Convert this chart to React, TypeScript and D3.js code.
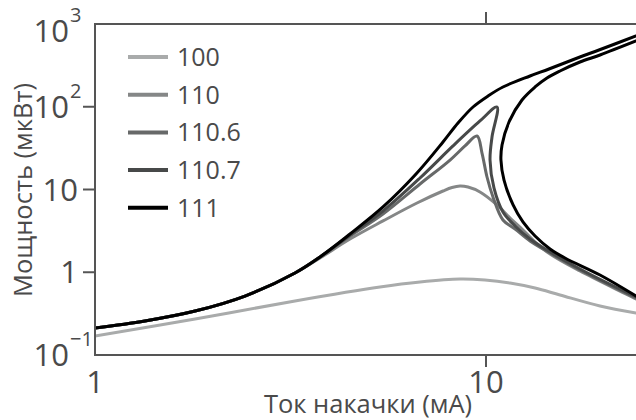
import React from 'react';
import * as d3 from 'd3';

// Pump current (mA) and output power (µW) for each detuning value
const legendLabels = ['100', '110', '110.6', '110.7', '111'];
const lineColors = ['#a9abab', '#858787', '#676969', '#474949', '#000000'];

const xTicks = [1, 10];
const yTicks = [0.1, 1, 10, 100, 1000];

const current100 = [1.0, 1.803, 3.247, 5.356, 6.780, 8.581, 9.941, 11.52, 13.35, 15.46, 19.57, 24.19];
const power100 = [0.170, 0.272, 0.450, 0.663, 0.762, 0.828, 0.806, 0.741, 0.645, 0.531, 0.391, 0.322];

const current110 = [1.0, 1.342, 1.803, 2.419, 3.247, 3.762, 4.489, 5.452, 6.661, 7.762, 8.185, 8.581, 8.995, 9.651, 10.67, 11.52, 12.36, 13.35, 14.58, 17.39, 24.19];
const power110 = [0.212, 0.258, 0.340, 0.516, 0.980, 1.487, 2.52, 4.17, 6.87, 9.59, 10.57, 11.02, 10.7, 9.33, 6.50, 4.52, 3.33, 2.32, 1.662, 1.035, 0.475];

const current1106 = [1.0, 1.342, 1.803, 2.419, 3.247, 3.762, 4.489, 5.452, 6.780, 8.091, 8.837, 9.484, 9.767, 10.06, 10.42, 11.05, 11.87, 12.96, 14.58, 17.39, 24.19];
const power1106 = [0.212, 0.258, 0.340, 0.516, 0.980, 1.529, 2.74, 5.06, 11.66, 22.7, 33.6, 44.3, 27.6, 14.16, 8.12, 4.28, 3.33, 2.39, 1.708, 1.065, 0.488];

const current1107 = [1.0, 1.342, 1.803, 2.419, 3.247, 3.762, 4.489, 5.452, 6.780, 8.234, 9.651, 10.67, 10.36, 10.24, 10.48, 11.05, 11.87, 12.96, 14.58, 17.39, 24.19];
const power1107 = [0.212, 0.258, 0.340, 0.516, 0.980, 1.529, 2.82, 5.50, 13.77, 33.6, 67.3, 99.3, 43.1, 22.7, 10.43, 5.35, 3.62, 2.52, 1.756, 1.095, 0.502];

// 111: lower/upper branch and the separate inner branch
const current111a = [1.0, 1.342, 1.803, 2.419, 3.247, 3.762, 4.489, 5.452, 6.623, 7.762, 8.480, 9.264, 10.12, 11.05, 12.96, 14.49, 17.39, 19.45, 24.19];
const power111a = [0.212, 0.258, 0.340, 0.516, 0.980, 1.529, 2.90, 6.15, 15.39, 37.5, 63.6, 99.3, 134.9, 173.3, 235.3, 285.9, 399.3, 485.1, 716.1];

const current111b = [24.19, 19.57, 17.39, 15.46, 14.32, 13.35, 12.36, 11.45, 10.99, 10.92, 11.12, 11.73, 12.43, 13.35, 14.58, 15.92, 19.57, 24.19];
const power111b = [623.3, 422.1, 347.4, 270.4, 222.6, 173.3, 120.7, 65.4, 34.5, 22.7, 13.0, 6.50, 4.05, 2.74, 1.91, 1.487, 0.926, 0.516];

const series = [
  { label: legendLabels[0], color: lineColors[0], parts: [[current100, power100]] },
  { label: legendLabels[1], color: lineColors[1], parts: [[current110, power110]] },
  { label: legendLabels[2], color: lineColors[2], parts: [[current1106, power1106]] },
  { label: legendLabels[3], color: lineColors[3], parts: [[current1107, power1107]] },
  { label: legendLabels[4], color: lineColors[4], parts: [[current111a, power111a], [current111b, power111b]] },
];

const W = 636;
const H = 420;
const left = 95;
const top = 24;
const bottom = 355;
const decade = 391;
const FONT = '"Open Sans", "Noto Sans", sans-serif';
const TEXT = '#4a4a4a';
const AXIS = '#555555';

const supMap: Record<string, string> = { '-': '\u2212' };

export default function App() {
  const x = d3.scaleLog().domain([1, 100]).range([left, left + 2 * decade]);
  const y = d3.scaleLog().domain([0.1, 1000]).range([bottom, top]);

  const line = d3
    .line<[number, number]>()
    .x((d) => x(d[0]))
    .y((d) => y(d[1]))
    .curve(d3.curveCatmullRom.alpha(0.5));

  const yLabel = (v: number) => {
    const exp = Math.round(Math.log10(v));
    if (exp === 0 || exp === 1) return { base: String(v), sup: '' };
    return { base: '10', sup: String(exp).split('').map((c) => supMap[c] || c).join('') };
  };

  return (
    <svg width={W} height={H} style={{ position: 'absolute', left: 0, top: 0, background: '#fff' }} fontFamily={FONT}>
      <defs>
        <clipPath id="plot-area">
          <rect x={left} y={top} width={W - left} height={bottom - top} />
        </clipPath>
      </defs>

      {/* curves */}
      <g clipPath="url(#plot-area)" fill="none" strokeWidth={3} strokeLinejoin="round" strokeLinecap="round">
        {series.map((s) =>
          s.parts.map(([cx, py], i) => (
            <path
              key={s.label + i}
              d={line(cx.map((c, k) => [c, py[k]] as [number, number])) || ''}
              stroke={s.color}
            />
          ))
        )}
      </g>

      {/* frame */}
      <g stroke={AXIS} strokeWidth={2} fill="none">
        <line x1={left} x2={W} y1={top} y2={top} />
        <line x1={left} x2={W} y1={bottom} y2={bottom} />
        <line x1={left} x2={left} y1={top - 1} y2={bottom + 1} />
      </g>

      {/* x ticks */}
      {xTicks.map((t) => (
        <g key={'x' + t}>
          {t !== 1 && (
            <>
              <line x1={x(t)} x2={x(t)} y1={bottom} y2={bottom + 12} stroke={AXIS} strokeWidth={2} />
              <line x1={x(t)} x2={x(t)} y1={top} y2={top - 12} stroke={AXIS} strokeWidth={2} />
            </>
          )}
          <text x={x(t)} y={393} textAnchor="middle" fontSize={31} fill={TEXT}>
            {t}
          </text>
        </g>
      ))}

      {/* y ticks */}
      {yTicks.map((t) => {
        const lab = yLabel(t);
        const yy = Math.max(y(t), top + 7);
        const edge = t === 0.1 || t === 1000;
        return (
          <g key={'y' + t}>
            {!edge && <line x1={left - 12} x2={left} y1={y(t)} y2={y(t)} stroke={AXIS} strokeWidth={2} />}
            {lab.sup ? (
              <>
                <text x={69} y={yy} dy="0.36em" textAnchor="end" fontSize={31} fill={TEXT}>
                  {lab.base}
                </text>
                <text x={70} y={yy - 9} textAnchor="start" fontSize={20} fill={TEXT}>
                  {lab.sup}
                </text>
              </>
            ) : (
              <text x={78} y={yy} dy="0.36em" textAnchor="end" fontSize={31} fill={TEXT}>
                {lab.base}
              </text>
            )}
          </g>
        );
      })}

      {/* axis titles */}
      <text x={368} y={413} textAnchor="middle" fontSize={25.5} fill={TEXT}>
        Ток накачки (мА)
      </text>
      <text transform="translate(32,190) rotate(-90)" textAnchor="middle" fontSize={25.5} fill={TEXT}>
        Мощность (мкВт)
      </text>

      {/* legend */}
      {series.map((s, i) => {
        const ly = 57 + i * 37.7;
        return (
          <g key={'leg' + s.label}>
            <line x1={128} x2={168} y1={ly} y2={ly} stroke={s.color} strokeWidth={4} />
            <text x={177} y={ly} dy="0.36em" fontSize={25} fill={TEXT}>
              {s.label}
            </text>
          </g>
        );
      })}
    </svg>
  );
}
